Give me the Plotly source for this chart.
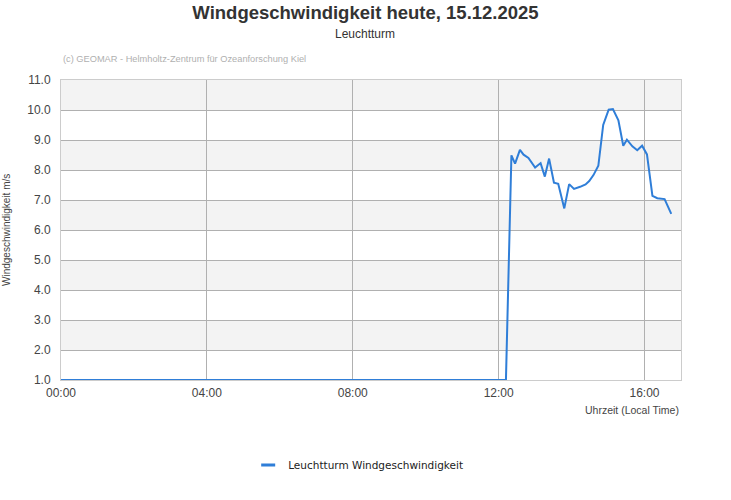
import plotly.graph_objects as go

# Wind speed readings for 15.12.2025 (local time, m/s)
times = [
    "00:00", "12:12", "12:21", "12:27", "12:35", "12:41", "12:49", "13:00",
    "13:09", "13:16", "13:23", "13:31", "13:38", "13:48", "13:56", "14:04",
    "14:14", "14:23", "14:29", "14:36", "14:44", "14:52", "15:01", "15:08",
    "15:17", "15:25", "15:31", "15:40", "15:48", "15:56", "16:04", "16:13",
    "16:21", "16:33", "16:44",
]
wind_speed = [
    1.0, 1.0, 8.49, 8.21, 8.67, 8.51, 8.40, 8.08,
    8.23, 7.78, 8.38, 7.58, 7.54, 6.72, 7.53, 7.37,
    7.44, 7.52, 7.63, 7.83, 8.14, 9.50, 10.01, 10.03,
    9.66, 8.81, 9.01, 8.79, 8.66, 8.81, 8.52, 7.14,
    7.06, 7.03, 6.54,
]
y_ticks = [1.0, 2.0, 3.0, 4.0, 5.0, 6.0, 7.0, 8.0, 9.0, 10.0, 11.0]
x_ticks = ["00:00", "04:00", "08:00", "12:00", "16:00"]

day = "2025-12-15 "
line_color = "#2f7ed8"
series_name = "Leuchtturm Windgeschwindigkeit"

fig = go.Figure()
fig.add_trace(go.Scatter(
    x=[day + t for t in times],
    y=wind_speed,
    mode="lines",
    name=series_name,
    legendgroup="wind",
    showlegend=False,
    line=dict(color=line_color, width=2),
    hovertemplate="%{x|%H:%M}: %{y:.1f} m/s<extra></extra>",
))
# legend entry only: short dash like the original
fig.add_trace(go.Scatter(
    x=[None], y=[None],
    mode="markers",
    name=series_name,
    legendgroup="wind",
    marker=dict(symbol="line-ew", size=10, line=dict(color=line_color, width=3)),
))

# alternating grey bands between the y gridlines
for i in range(len(y_ticks) - 1):
    if (len(y_ticks) - 2 - i) % 2 == 0:
        fig.add_shape(
            type="rect", xref="paper", yref="y", layer="below",
            x0=0, x1=1, y0=y_ticks[i], y1=y_ticks[i + 1],
            fillcolor="#f3f3f3", line_width=0,
        )

fig.update_layout(
    width=731,
    height=500,
    paper_bgcolor="white",
    plot_bgcolor="white",
    margin=dict(l=61, r=50, t=80, b=120),
    font=dict(family="Liberation Sans, Arial, sans-serif", size=12, color="#444"),
    title=dict(
        text="<b>Windgeschwindigkeit heute, 15.12.2025</b>",
        font=dict(size=18.5, color="#333"),
        x=0.5, xanchor="center", xref="container",
        y=1 - 13 / 500, yanchor="middle", yref="container",
    ),
    showlegend=True,
    legend=dict(
        orientation="h",
        x=0.49, xanchor="center", xref="container",
        y=35 / 500, yanchor="middle", yref="container",
        font=dict(family="DejaVu Sans, Verdana, sans-serif", size=10.5, color="#222"),
        itemwidth=30,
    ),
    annotations=[
        dict(text="Leuchtturm", xref="paper", yref="paper",
             x=0.491, y=1, xanchor="center", yanchor="middle", yshift=46,
             showarrow=False, font=dict(size=12, color="#333")),
        dict(text="(c) GEOMAR - Helmholtz-Zentrum für Ozeanforschung Kiel",
             xref="paper", yref="paper", x=0, y=1, xanchor="left", yanchor="bottom",
             xshift=0, yshift=14, showarrow=False,
             font=dict(size=9.25, color="#b0b0b0")),
        dict(text="Uhrzeit (Local Time)", xref="paper", yref="paper",
             x=1, y=0, xanchor="right", yanchor="top", yshift=-22,
             showarrow=False, font=dict(size=10.5, color="#444")),
        dict(text="Windgeschwindigkeit m/s", xref="paper", yref="paper",
             x=0, y=0.5, xanchor="center", yanchor="middle", xshift=-55,
             textangle=-90, showarrow=False, font=dict(size=10, color="#444")),
    ],
)

fig.update_xaxes(
    type="date",
    range=[day + "00:00", day + "17:00"],
    tickvals=[day + t for t in x_ticks],
    ticktext=x_ticks,
    showgrid=True, gridcolor="#b0b0b0", gridwidth=1,
    showline=True, linecolor="#cccccc", mirror=True,
    zeroline=False, ticks="", ticklen=0, ticklabelstandoff=2,
    tickfont=dict(size=12, color="#444"),
)
fig.update_yaxes(
    range=[1.0, 11.0],
    tickvals=y_ticks,
    ticktext=[f"{v:.1f}" for v in y_ticks],
    showgrid=True, gridcolor="#b0b0b0", gridwidth=1,
    showline=True, linecolor="#cccccc", mirror=True,
    zeroline=False, ticks="", ticklabelstandoff=7,
    tickfont=dict(size=12, color="#444"),
)

# the page body has a default 8px margin; drop it so the chart sits at 0,0
fig.write_html(
    "out.html",
    config={"displayModeBar": False},
    post_script="document.body.style.margin='0';",
)
